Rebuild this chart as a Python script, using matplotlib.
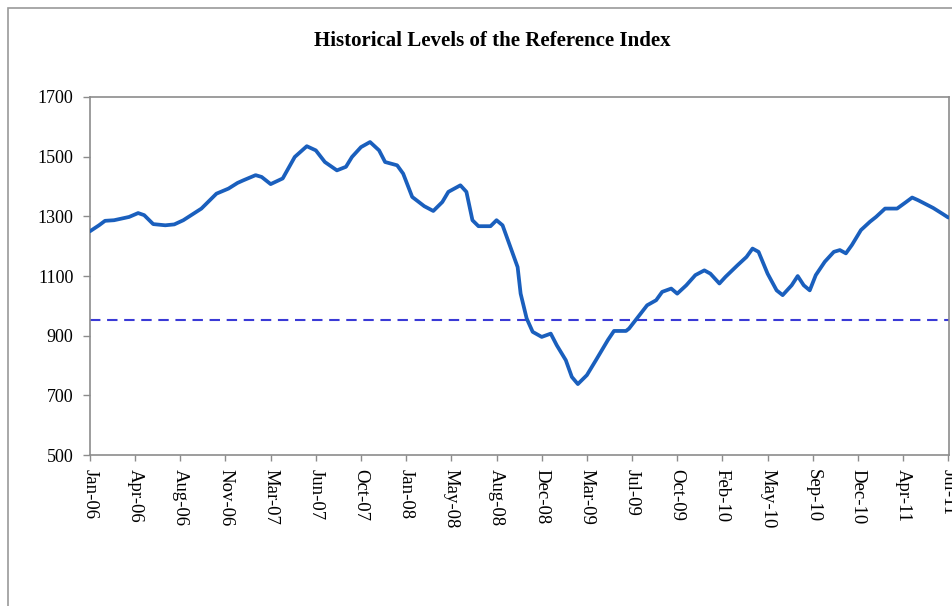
import numpy as np
import matplotlib.pyplot as plt
from matplotlib.patches import Rectangle

# weekly observations, week 0 = first week of Jan 2006
weeks = [0, 3, 5, 8, 13, 16, 18, 21, 25, 28, 31, 37, 42, 46, 49, 51, 55, 57,
         60, 64, 68, 72, 75, 78, 82, 85, 87, 90, 93, 96, 98, 102, 104, 107,
         111, 114, 117, 119, 123, 125, 127, 129, 133, 135, 137, 139, 142, 143,
         145, 147, 150, 153, 155, 158, 160, 162, 165, 168, 172, 174, 178, 179,
         182, 185, 188, 190, 193, 195, 198, 201, 204, 206, 209, 211, 215, 218,
         220, 222, 225, 228, 230, 233, 235, 237, 239, 241, 244, 247, 249, 251,
         253, 256, 259, 261, 264, 268, 271, 273, 275, 280, 283, 285]
level = [1250, 1270, 1285, 1287, 1298, 1311, 1304, 1274, 1270, 1273, 1287,
         1326, 1376, 1393, 1412, 1421, 1438, 1432, 1408, 1427, 1499, 1535,
         1521, 1482, 1454, 1466, 1499, 1532, 1549, 1521, 1482, 1471, 1443,
         1365, 1334, 1318, 1348, 1382, 1404, 1382, 1287, 1267, 1267, 1287,
         1270, 1214, 1130, 1041, 958, 913, 896, 907, 868, 818, 762, 738, 768,
         818, 886, 916, 916, 924, 963, 1002, 1019, 1047, 1058, 1041, 1069,
         1103, 1119, 1108, 1075, 1097, 1136, 1164, 1192, 1181, 1108, 1052,
         1036, 1069, 1100, 1069, 1052, 1103, 1148, 1181, 1187, 1176, 1204,
         1254, 1282, 1298, 1326, 1326, 1348, 1363, 1354, 1328, 1309, 1296]
barrier = 953

tick_labels = ['Jan-06', 'Apr-06', 'Aug-06', 'Nov-06', 'Mar-07', 'Jun-07',
               'Oct-07', 'Jan-08', 'May-08', 'Aug-08', 'Dec-08', 'Mar-09',
               'Jul-09', 'Oct-09', 'Feb-10', 'May-10', 'Sep-10', 'Dec-10',
               'Apr-11', 'Jul-11']
tick_step = 15  # weeks between labels
y_ticks = [500, 700, 900, 1100, 1300, 1500, 1700]

plt.rcParams['font.family'] = ['Liberation Serif', 'DejaVu Serif']

fig = plt.figure(figsize=(9.53, 6.06), dpi=100)
ax = fig.add_axes([0.0944, 0.249, 0.9016, 0.591])

ax.plot(weeks, level, color='#1a5fbd', lw=2.7, solid_joinstyle='round',
        solid_capstyle='round', zorder=3)
ax.axhline(barrier, color='#3a3ad6', lw=1.5, ls=(0, (5, 3.2)), zorder=2)

ax.set_xlim(0, 285.3)
ax.set_ylim(500, 1700)
ax.set_yticks(y_ticks)
ax.set_xticks(np.arange(len(tick_labels)) * tick_step)
ax.set_xticklabels(tick_labels, rotation=270, ha='center', va='top')

for s in ax.spines.values():
    s.set_color('#8c8c8c')
    s.set_linewidth(1.2)
ax.tick_params(axis='y', length=5, width=1, color='#8c8c8c', pad=7,
               labelsize=13)
ax.tick_params(axis='x', length=4, width=1, color='#8c8c8c', pad=6,
               labelsize=13.5)

fig.text(0.517, 0.932, 'Historical Levels of the Reference Index',
         ha='center', va='center', fontsize=15, fontweight='bold')

# outer chart border (cropped at right and bottom)
fig.patches.append(Rectangle((8 / 953, -0.1), 1.1, 1 - 8 / 606 + 0.1,
                             transform=fig.transFigure, fill=False,
                             ec='#9a9a9a', lw=1.2))

fig.savefig('out.png', dpi=100)
